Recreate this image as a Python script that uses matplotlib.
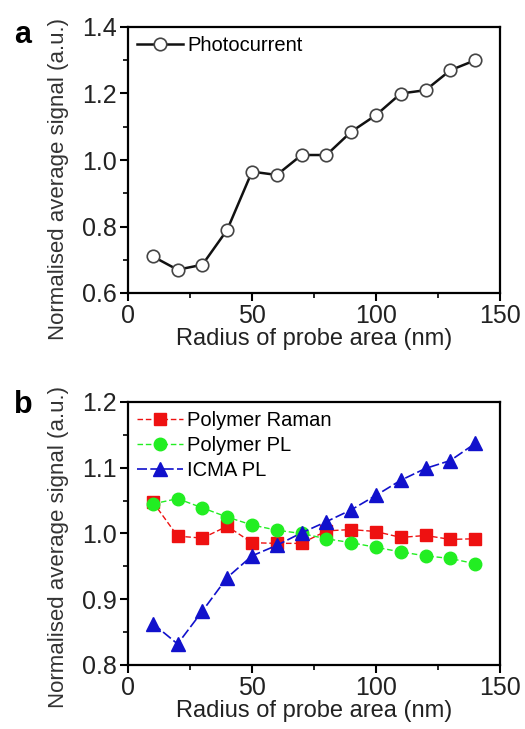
import numpy as np
import matplotlib
matplotlib.use("Agg")
import matplotlib.pyplot as plt
from matplotlib.ticker import MultipleLocator

plt.rcParams['font.family'] = ['Liberation Sans', 'DejaVu Sans']

# データ
radius = [10, 20, 30, 40, 50, 60, 70, 80, 90, 100, 110, 120, 130, 140]
photocurrent = [0.71, 0.67, 0.685, 0.79, 0.965, 0.955, 1.015, 1.015,
                1.085, 1.135, 1.20, 1.21, 1.27, 1.30]
raman = [1.048, 0.996, 0.993, 1.011, 0.986, 0.985, 0.985, 1.004,
         1.006, 1.003, 0.994, 0.997, 0.991, 0.992]
polymer_pl = [1.045, 1.053, 1.039, 1.025, 1.013, 1.005, 1.000, 0.992,
              0.986, 0.979, 0.972, 0.966, 0.962, 0.954]
icma_pl = [0.863, 0.832, 0.882, 0.933, 0.966, 0.982, 1.001, 1.018,
           1.036, 1.058, 1.081, 1.099, 1.111, 1.137]

fig = plt.figure(figsize=(5.25, 7.29), dpi=100)
W, H = 525, 729
ax_a = fig.add_axes([128 / W, 1 - 293 / H, 372 / W, 266 / H])
ax_b = fig.add_axes([128 / W, 1 - 665 / H, 372 / W, 263 / H])

def style(ax, ylim, major, minor, label_y):
    ax.set_xlim(0, 150)
    ax.set_ylim(*ylim)
    ax.xaxis.set_major_locator(MultipleLocator(50))
    ax.xaxis.set_minor_locator(MultipleLocator(25))
    ax.yaxis.set_major_locator(MultipleLocator(major))
    ax.yaxis.set_minor_locator(MultipleLocator(minor))
    ax.tick_params(which='major', direction='out', length=6, width=1.5, labelsize=18,
                   pad=2, labelcolor='#222222')
    ax.tick_params(which='minor', direction='out', length=3.5, width=1.2)
    for s in ax.spines.values():
        s.set_linewidth(1.6)
    ax.set_xlabel("Radius of probe area (nm)", fontsize=17, labelpad=0, color='#222222')
    ax.set_ylabel("Normalised average signal (a.u.)", fontsize=16, color='#333333')
    ax.yaxis.set_label_coords(-0.158, label_y)

# パネル a
ax_a.plot(radius, photocurrent, '-o', color='#111111', lw=1.8, mfc='white',
          mec='#444444', ms=9, mew=1.2, label='Photocurrent')
style(ax_a, (0.6, 1.4), 0.2, 0.1, 0.43)
ax_a.yaxis.set_major_formatter(plt.FormatStrFormatter('%.1f'))
ax_a.legend(loc='upper left', frameon=False, fontsize=14.5, handlelength=2.3,
            borderaxespad=0.15, handletextpad=0.2, borderpad=0.3)
fig.text(14 / W, 1 - 43 / H, 'a', fontsize=22, fontweight='bold')

# パネル b
ax_b.plot(radius, raman, '--s', color='#ee1111', lw=1, ms=8, dashes=(4, 2), label='Polymer Raman')
ax_b.plot(radius, polymer_pl, '--o', color='#22ee22', lw=1, ms=9, dashes=(4, 2), label='Polymer PL')
ax_b.plot(radius, icma_pl, '--^', color='#1111cc', lw=1.2, ms=10, dashes=(6, 2), label='ICMA PL')
style(ax_b, (0.8, 1.2), 0.1, 0.05, 0.45)
ax_b.legend(loc='upper left', frameon=False, fontsize=14.5, handlelength=2.3,
            borderaxespad=0.15, handletextpad=0.2, labelspacing=0.3, borderpad=0.3)
fig.text(14 / W, 1 - 413 / H, 'b', fontsize=22, fontweight='bold')

fig.savefig("out.png", dpi=100)
